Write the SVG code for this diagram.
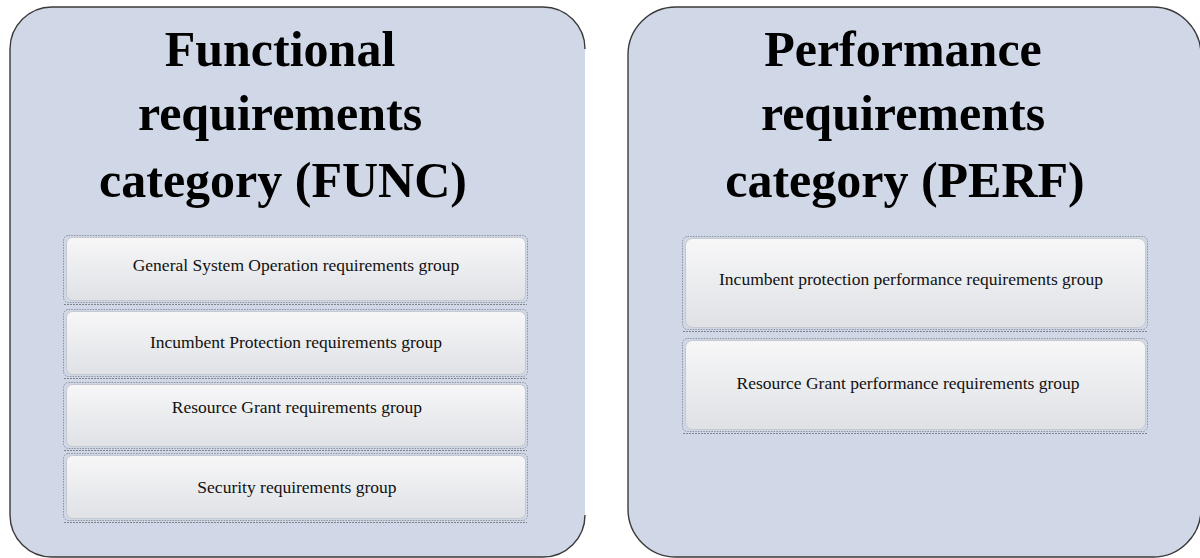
<svg xmlns="http://www.w3.org/2000/svg" width="1200" height="558" viewBox="0 0 1200 558">
  <defs>
    <linearGradient id="boxFill" x1="0" y1="0" x2="0" y2="1">
      <stop offset="0" stop-color="#f7f7f8"/>
      <stop offset="1" stop-color="#dfe1e5"/>
    </linearGradient>
    <style>
      .panel { fill: #d0d7e7; }
      .panel-edge { fill: none; stroke: #3a3a3a; stroke-width: 1.4; }
      .title { font-family: "Liberation Serif", "Times New Roman", serif; font-weight: bold; font-size: 50px; fill: #000; text-anchor: middle; }
      .box { fill: url(#boxFill); stroke: #c4c8d0; stroke-width: 1; }
      .box-dots { fill: none; stroke: #8d929b; stroke-width: 1; stroke-dasharray: 1.5 1.2; }
      .box-base { fill: none; stroke: #7f848d; stroke-width: 1; stroke-dasharray: 2 1; }
      .label { font-family: "Liberation Serif", "Times New Roman", serif; font-size: 17.5px; fill: #111; text-anchor: middle; }
    </style>
  </defs>

  <rect width="1200" height="558" fill="#ffffff"/>

  <!-- Functional requirements category panel (right straight side left unstroked) -->
  <g id="func-category">
    <rect class="panel" x="10" y="7" width="575" height="550" rx="42" ry="42"/>
    <path class="panel-edge" d="M585 49 A42 42 0 0 0 543 7 H52 A42 42 0 0 0 10 49 V515 A42 42 0 0 0 52 557 H543 A42 42 0 0 0 585 515"/>
    <text class="title" x="280" y="66">Functional</text>
    <text class="title" x="280" y="130">requirements</text>
    <text class="title" x="283" y="197">category (FUNC)</text>
  </g>

  <!-- Performance requirements category panel -->
  <g id="perf-category">
    <rect class="panel" x="628" y="7" width="573" height="550" rx="48" ry="48"/>
    <path class="panel-edge" d="M1201 55 A48 48 0 0 0 1153 7 H676 A48 48 0 0 0 628 55 V509 A48 48 0 0 0 676 557 H1153 A48 48 0 0 0 1201 509"/>
    <text class="title" x="903" y="66">Performance</text>
    <text class="title" x="903" y="130">requirements</text>
    <text class="title" x="905" y="197">category (PERF)</text>
  </g>

  <!-- FUNC requirement groups -->
  <g id="func-general">
    <rect class="box-dots" x="63.5" y="235.5" width="464" height="67" rx="5"/>
    <line class="box-base" x1="64" y1="304.5" x2="527" y2="304.5"/>
    <rect class="box" x="66.5" y="237.5" width="459" height="63" rx="6"/>
    <text class="label" x="296" y="271">General System Operation requirements group</text>
  </g>
  <g id="func-incumbent">
    <rect class="box-dots" x="63.5" y="309.5" width="464" height="67" rx="5"/>
    <line class="box-base" x1="64" y1="378.5" x2="527" y2="378.5"/>
    <rect class="box" x="66.5" y="311.5" width="459" height="63" rx="6"/>
    <text class="label" x="296" y="348">Incumbent Protection requirements group</text>
  </g>
  <g id="func-resource">
    <rect class="box-dots" x="63.5" y="382.5" width="464" height="66" rx="5"/>
    <line class="box-base" x1="64" y1="450.5" x2="527" y2="450.5"/>
    <rect class="box" x="66.5" y="384.5" width="459" height="62" rx="6"/>
    <text class="label" x="297" y="413">Resource Grant requirements group</text>
  </g>
  <g id="func-security">
    <rect class="box-dots" x="63.5" y="453.5" width="464" height="67" rx="5"/>
    <line class="box-base" x1="64" y1="522.5" x2="527" y2="522.5"/>
    <rect class="box" x="66.5" y="455.5" width="459" height="63" rx="6"/>
    <text class="label" x="297" y="493">Security requirements group</text>
  </g>

  <!-- PERF requirement groups -->
  <g id="perf-incumbent">
    <rect class="box-dots" x="682.5" y="236.5" width="465" height="93" rx="5"/>
    <line class="box-base" x1="683" y1="331.5" x2="1147" y2="331.5"/>
    <rect class="box" x="685.5" y="238.5" width="460" height="89" rx="7"/>
    <text class="label" x="911" y="285">Incumbent protection performance requirements group</text>
  </g>
  <g id="perf-resource">
    <rect class="box-dots" x="682.5" y="338.5" width="465" height="93" rx="5"/>
    <line class="box-base" x1="683" y1="433.5" x2="1147" y2="433.5"/>
    <rect class="box" x="685.5" y="340.5" width="460" height="89" rx="7"/>
    <text class="label" x="908" y="389">Resource Grant performance requirements group</text>
  </g>

  <!-- no connectors between the groups -->
  <g id="connectors"/>
</svg>
